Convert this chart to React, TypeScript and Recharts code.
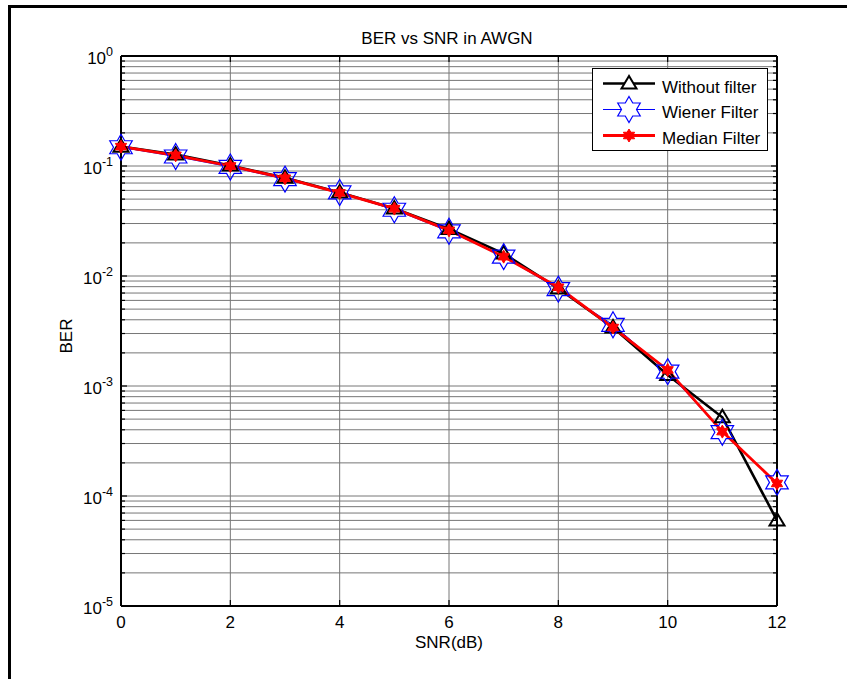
import React from 'react';
import { LineChart, Line, XAxis, YAxis, CartesianGrid } from 'recharts';

const snr = [0, 1, 2, 3, 4, 5, 6, 7, 8, 9, 10, 11, 12];
const withoutFilter = [0.150, 0.127, 0.101, 0.078, 0.0575, 0.041, 0.0268, 0.0160, 0.0077, 0.0034, 0.00126, 0.00052, 0.00006];
const wienerFilter = [0.148, 0.122, 0.098, 0.076, 0.0575, 0.040, 0.0255, 0.0150, 0.0076, 0.0036, 0.00135, 0.00038, 0.000133];
const medianFilter = [0.150, 0.125, 0.100, 0.0775, 0.057, 0.041, 0.026, 0.0150, 0.0079, 0.0034, 0.00140, 0.000385, 0.000130];
const xTicks = [0, 2, 4, 6, 8, 10, 12];
const decades = [-5, -4, -3, -2, -1, 0];
const mantissas = [1, 2, 3, 4, 5, 6, 7, 8, 9];
const seriesNames = ['Without filter', 'Wiener Filter', 'Median Filter'];
const titleText = 'BER vs SNR in AWGN';
const xLabelText = 'SNR(dB)';
const yLabelText = 'BER';

const yTicks: number[] = decades.flatMap((d) => (d === 0 ? [1] : mantissas.map((m) => m * Math.pow(10, d))));
const data = snr.map((s, i) => ({ snr: s, without: withoutFilter[i], wiener: wienerFilter[i], median: medianFilter[i] }));

const FONT = '"Liberation Sans", Arial, Helvetica, sans-serif';
const FS = 17;

const isMajor = (v: number) => Math.abs(Math.log10(v) - Math.round(Math.log10(v))) < 1e-9;

const hexPoints = (cx: number, cy: number, R: number) => {
  const r = R / Math.sqrt(3);
  const pts: string[] = [];
  for (let k = 0; k < 12; k++) {
    const ang = -Math.PI / 2 + (k * Math.PI) / 6;
    const rad = k % 2 === 0 ? R : r;
    pts.push(`${cx + rad * Math.cos(ang)},${cy + rad * Math.sin(ang)}`);
  }
  return pts.join(' ');
};
const triPoints = (cx: number, cy: number) => `${cx},${cy - 7.5} ${cx - 7.5},${cy + 5} ${cx + 7.5},${cy + 5}`;

const TriDot = (props: any) => {
  const { cx, cy } = props;
  if (cx == null || cy == null) return <g key={props.key} />;
  return <polygon key={props.key} points={triPoints(cx, cy)} fill="none" stroke="#000" strokeWidth={2} />;
};
const HexDot = (props: any) => {
  const { cx, cy } = props;
  if (cx == null || cy == null) return <g key={props.key} />;
  return <polygon key={props.key} points={hexPoints(cx, cy, 13)} fill="none" stroke="#0000ff" strokeWidth={1.2} />;
};
const RedDot = (props: any) => {
  const { cx, cy } = props;
  if (cx == null || cy == null) return <g key={props.key} />;
  return <polygon key={props.key} points={hexPoints(cx, cy, 6.5)} fill="#ff0000" stroke="#ff0000" strokeWidth={1} />;
};

const LeftTick = (props: any) => {
  const { x, y, payload } = props;
  const v = payload.value;
  const major = isMajor(v);
  const exp = Math.round(Math.log10(v));
  return (
    <g>
      <line x1={x} x2={x + (major ? 6 : 4)} y1={y} y2={y} stroke="#000" strokeWidth={1.2} />
      {major && (
        <text x={x - 8} y={y + 8} textAnchor="end" fontSize={FS} fill="#000" fontFamily={FONT}>
          <tspan>10</tspan>
          <tspan dy={-8} fontSize={12.5}>{String(exp)}</tspan>
        </text>
      )}
    </g>
  );
};
const RightTick = (props: any) => {
  const { x, y, payload } = props;
  const major = isMajor(payload.value);
  return <line x1={x} x2={x - (major ? 6 : 4)} y1={y} y2={y} stroke="#000" strokeWidth={1.2} />;
};
const BottomTick = (props: any) => {
  const { x, y, payload } = props;
  return (
    <g>
      <line x1={x} x2={x} y1={y} y2={y - 6} stroke="#000" strokeWidth={1.2} />
      <text x={x} y={y + 22} textAnchor="middle" fontSize={FS} fill="#000" fontFamily={FONT}>
        {String(payload.value)}
      </text>
    </g>
  );
};
const TopTick = (props: any) => {
  const { x, y } = props;
  return <line x1={x} x2={x} y1={y} y2={y + 6} stroke="#000" strokeWidth={1.2} />;
};

const legendIcons = [
  (cx: number, cy: number) => (
    <g>
      <line x1={cx - 26} x2={cx + 26} y1={cy} y2={cy} stroke="#000" strokeWidth={2.6} />
      <polygon points={triPoints(cx, cy)} fill="#fff" stroke="#000" strokeWidth={2} />
    </g>
  ),
  (cx: number, cy: number) => (
    <g>
      <line x1={cx - 26} x2={cx + 26} y1={cy} y2={cy} stroke="#0000ff" strokeWidth={1} />
      <polygon points={hexPoints(cx, cy, 13)} fill="#fff" stroke="#0000ff" strokeWidth={1.2} />
    </g>
  ),
  (cx: number, cy: number) => (
    <g>
      <line x1={cx - 26} x2={cx + 26} y1={cy} y2={cy} stroke="#ff0000" strokeWidth={2.8} />
      <polygon points={hexPoints(cx, cy, 6.5)} fill="#ff0000" stroke="#ff0000" strokeWidth={1} />
    </g>
  ),
];

export default function App() {
  return (
    <div style={{ position: 'fixed', left: 0, top: 0, width: 847, height: 679, background: '#fff', overflow: 'hidden' }}>
      <div
        style={{
          position: 'absolute',
          left: 8,
          top: 5,
          width: 900,
          height: 800,
          borderTop: '3px solid #000',
          borderLeft: '3px solid #000',
        }}
      />
      <div style={{ position: 'absolute', left: 0, top: 0 }}>
        <LineChart width={847} height={679} data={data} margin={{ top: 55, right: 69, bottom: 72, left: 120 }}>
          <CartesianGrid stroke="#767676" strokeWidth={1} />
          <XAxis
            dataKey="snr"
            type="number"
            domain={[0, 12]}
            ticks={xTicks}
            height={1}
            tickSize={0}
            tickMargin={0}
            tick={<BottomTick />}
            axisLine={{ stroke: '#000', strokeWidth: 2 }}
            tickLine={false}
            interval={0}
          />
          <XAxis
            xAxisId="top"
            orientation="top"
            type="number"
            domain={[0, 12]}
            ticks={xTicks}
            height={1}
            tickSize={0}
            tickMargin={0}
            tick={<TopTick />}
            axisLine={{ stroke: '#000', strokeWidth: 2 }}
            tickLine={false}
            interval={0}
          />
          <YAxis
            scale="log"
            type="number"
            domain={[1e-5, 1]}
            allowDataOverflow
            ticks={yTicks}
            width={1}
            tickSize={0}
            tickMargin={0}
            tick={<LeftTick />}
            axisLine={{ stroke: '#000', strokeWidth: 2 }}
            tickLine={false}
            interval={0}
          />
          <YAxis
            yAxisId="right"
            orientation="right"
            scale="log"
            type="number"
            domain={[1e-5, 1]}
            allowDataOverflow
            ticks={yTicks}
            width={1}
            tickSize={0}
            tickMargin={0}
            tick={<RightTick />}
            axisLine={{ stroke: '#000', strokeWidth: 2 }}
            tickLine={false}
            interval={0}
          />
          <Line
            dataKey="without"
            name={seriesNames[0]}
            stroke="#000"
            strokeWidth={2.6}
            dot={TriDot}
            activeDot={false}
            isAnimationActive={false}
          />
          <Line
            dataKey="wiener"
            name={seriesNames[1]}
            stroke="#0000ff"
            strokeWidth={1}
            dot={HexDot}
            activeDot={false}
            isAnimationActive={false}
          />
          <Line
            dataKey="median"
            name={seriesNames[2]}
            stroke="#ff0000"
            strokeWidth={2.8}
            dot={RedDot}
            activeDot={false}
            isAnimationActive={false}
          />
        </LineChart>
      </div>
      <svg width={847} height={679} style={{ position: 'absolute', left: 0, top: 0, pointerEvents: 'none' }}>
        <text x={447} y={44} textAnchor="middle" fontSize={FS} fontFamily={FONT} fill="#000">{titleText}</text>
        <text x={449} y={648} textAnchor="middle" fontSize={FS} fontFamily={FONT} fill="#000">{xLabelText}</text>
        <text x={72} y={336} textAnchor="middle" fontSize={FS} fontFamily={FONT} fill="#000" transform="rotate(-90 72 336)">{yLabelText}</text>
      </svg>
      <div
        style={{
          position: 'absolute',
          left: 592,
          top: 68,
          width: 176,
          height: 83,
          boxSizing: 'border-box',
          border: '1px solid #000',
          background: '#fff',
        }}
      >
        <svg width={174} height={81} style={{ display: 'block' }}>
          {seriesNames.map((name, i) => (
            <g key={name}>
              {legendIcons[i](36, 14.5 + i * 26)}
              <text x={69} y={23.5 + i * 25.5} fontSize={FS} fontFamily={FONT} fill="#000">{name}</text>
            </g>
          ))}
        </svg>
      </div>
    </div>
  );
}
